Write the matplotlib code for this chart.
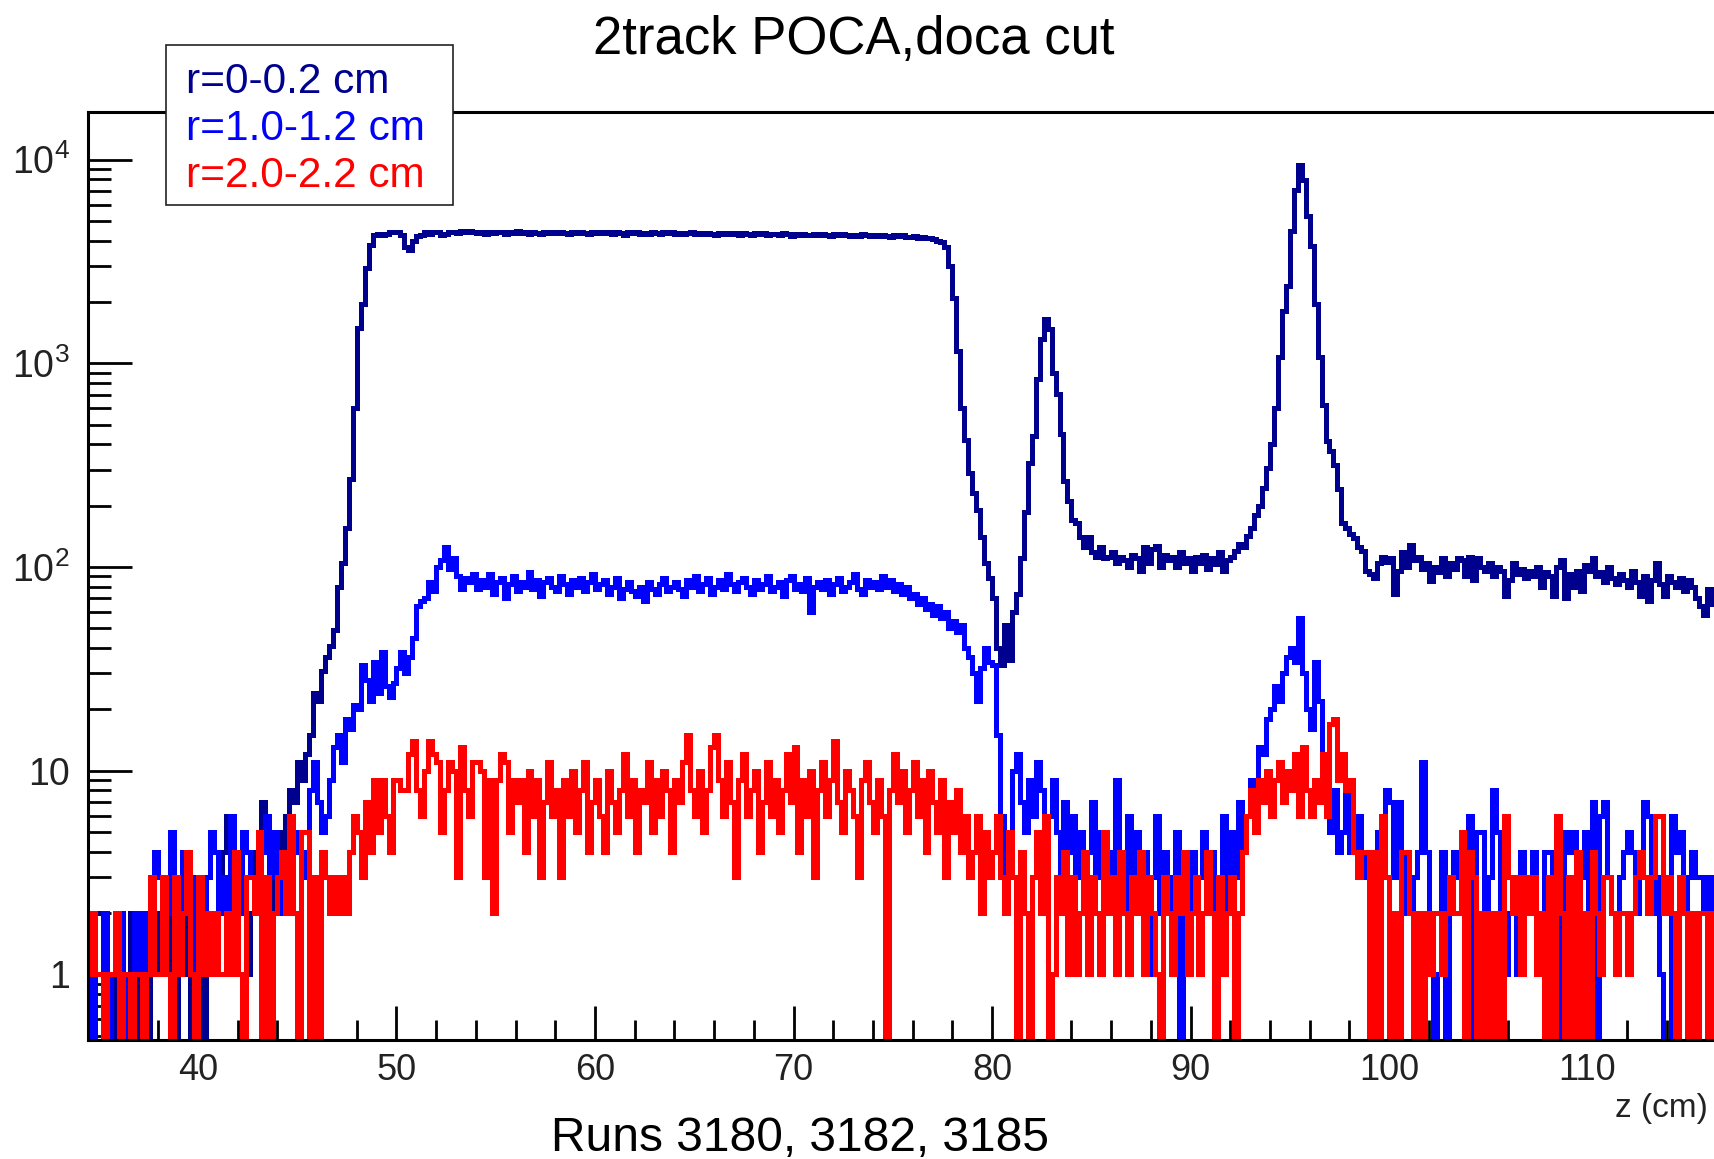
import numpy as np
import matplotlib
matplotlib.use('Agg')
import matplotlib.pyplot as plt
from matplotlib.patches import Rectangle
from matplotlib.ticker import LogLocator, MultipleLocator, NullFormatter

# histogram binning (cm)
z_start = 34.0
bin_width = 0.2

# r = 0-0.2 cm, one row = 5 cm (25 bins), rows start at 34, 39, 44 ...
counts_r0 = [
    0, 0, 1, 1, 2, 2, 0, 1, 1, 0, 1, 0, 1, 2, 1, 0, 1, 0, 2, 2, 1, 3, 3, 1, 0,
    1, 2, 1, 0, 1, 1, 0, 2, 1, 1, 2, 4, 6, 2, 1, 3, 2, 1, 2, 4, 3, 7, 5, 2, 4,
    5, 3, 6, 8, 7, 11, 9, 12, 15, 24, 22, 31, 36, 41, 49, 80, 105, 155, 270, 600, 1490, 1960, 2940, 3790, 4270,
    4300, 4280, 4300, 4420, 4400, 4410, 4280, 3700, 3580, 3980, 4200, 4270, 4410, 4300, 4420, 4400, 4270, 4300, 4420, 4430, 4380, 4440, 4400, 4450, 4420,
    4380, 4420, 4300, 4410, 4350, 4420, 4390, 4300, 4410, 4380, 4440, 4350, 4400, 4320, 4410, 4380, 4300, 4420, 4370, 4400, 4350, 4430, 4380, 4300, 4400,
    4350, 4420, 4380, 4310, 4400, 4360, 4430, 4340, 4390, 4300, 4410, 4370, 4280, 4400, 4350, 4420, 4330, 4380, 4310, 4400, 4360, 4290, 4390, 4350, 4400,
    4320, 4380, 4300, 4360, 4410, 4290, 4350, 4300, 4380, 4330, 4270, 4360, 4310, 4380, 4300, 4340, 4280, 4360, 4320, 4250, 4340, 4300, 4360, 4280, 4330,
    4300, 4260, 4340, 4290, 4220, 4310, 4260, 4330, 4280, 4240, 4300, 4250, 4320, 4270, 4220, 4290, 4250, 4310, 4240, 4200, 4280, 4230, 4290, 4250, 4210,
    4260, 4200, 4270, 4220, 4180, 4240, 4190, 4250, 4180, 4150, 4200, 4130, 4180, 4100, 4140, 4080, 4000, 3950, 3700, 3000, 2100, 1150, 600, 420, 290,
    230, 190, 140, 105, 88, 70, 40, 33, 52, 35, 60, 74, 110, 185, 325, 440, 840, 1320, 1650, 1480, 900, 710, 450, 265, 210,
    170, 165, 140, 125, 140, 118, 112, 125, 110, 112, 118, 105, 112, 108, 100, 115, 110, 95, 125, 105, 122, 126, 100, 115, 108,
    112, 100, 118, 105, 110, 96, 112, 104, 115, 98, 110, 103, 118, 95, 108, 112, 120, 130, 125, 142, 155, 180, 200, 245, 305,
    400, 600, 1070, 1800, 2400, 4460, 7100, 9400, 7900, 5300, 3780, 1960, 1070, 620, 415, 370, 315, 240, 165, 155, 145, 138, 125, 120, 95,
    92, 88, 105, 112, 106, 110, 74, 95, 118, 100, 128, 108, 112, 98, 104, 85, 100, 94, 110, 90, 104, 98, 110, 108, 90,
    112, 86, 110, 100, 96, 104, 90, 100, 95, 72, 86, 105, 92, 98, 88, 96, 90, 100, 80, 94, 90, 72, 100, 108, 70,
    92, 80, 96, 76, 102, 95, 110, 90, 94, 84, 100, 88, 82, 92, 86, 80, 96, 84, 72, 90, 68, 86, 104, 82, 72,
    90, 84, 80, 88, 76, 86, 80, 70, 64, 58, 78, 66, 72, 70, 75, 68, 74, 66, 70, 72, 65, 70, 68, 72, 66,
]

# r = 1.0-1.2 cm
counts_r1 = [
    0, 1, 1, 0, 1, 1, 2, 0, 1, 1, 2, 1, 0, 1, 2, 1, 2, 1, 2, 4, 3, 1, 2, 5, 1,
    2, 4, 2, 1, 3, 2, 1, 3, 5, 4, 2, 3, 1, 6, 3, 2, 5, 4, 3, 2, 3, 4, 6, 3, 5,
    2, 4, 3, 3, 5, 4, 3, 4, 8, 11, 7, 5, 6, 9, 13, 15, 11, 18, 16, 21, 20, 33, 28, 22, 34,
    24, 38, 26, 23, 27, 32, 38, 30, 36, 45, 64, 68, 70, 84, 76, 100, 108, 125, 98, 110, 90, 78, 88, 84, 92,
    78, 86, 80, 92, 74, 84, 88, 70, 82, 90, 76, 84, 80, 94, 78, 86, 72, 84, 88, 80, 76, 90, 82, 74, 86,
    80, 88, 76, 84, 92, 78, 82, 86, 74, 80, 88, 70, 78, 84, 76, 72, 80, 68, 84, 78, 74, 82, 88, 76, 80,
    84, 78, 72, 86, 80, 90, 76, 82, 88, 74, 80, 86, 78, 92, 82, 76, 84, 88, 80, 74, 86, 78, 82, 90, 76,
    80, 84, 72, 86, 90, 78, 82, 76, 88, 60, 80, 84, 78, 86, 74, 82, 88, 76, 80, 84, 92, 78, 74, 86, 80,
    84, 78, 90, 80, 86, 76, 82, 74, 80, 70, 74, 66, 70, 62, 66, 58, 64, 56, 60, 50, 54, 48, 52, 40, 36,
    30, 22, 32, 40, 34, 33, 15, 6, 3, 4, 10, 12, 7, 5, 9, 6, 11, 8, 4, 6, 9, 5, 3, 7, 4,
    6, 3, 5, 2, 4, 7, 3, 5, 2, 4, 3, 9, 4, 2, 6, 3, 5, 2, 4, 1, 3, 6, 2, 4, 3,
    2, 5, 0, 3, 1, 4, 2, 3, 5, 2, 4, 1, 3, 6, 2, 5, 3, 7, 4, 6, 9, 8, 13, 12, 18,
    20, 26, 22, 30, 36, 40, 34, 56, 30, 20, 16, 34, 22, 10, 9, 5, 8, 4, 5, 9, 4, 4, 6, 4, 3,
    3, 2, 5, 3, 8, 7, 3, 7, 2, 4, 2, 3, 4, 11, 4, 2, 0, 1, 4, 0, 3, 4, 3, 4, 2,
    6, 0, 5, 5, 2, 3, 8, 5, 2, 1, 2, 3, 1, 4, 2, 3, 4, 2, 1, 4, 4, 3, 0, 2, 5,
    4, 5, 4, 3, 5, 0, 7, 0, 6, 7, 3, 2, 1, 3, 4, 5, 4, 2, 3, 7, 6, 2, 3, 1, 0,
    0, 6, 4, 5, 2, 3, 4, 3, 3, 2, 3, 1, 3, 2, 3, 1, 2, 4, 2, 3, 1, 2, 3, 2, 3,
]

# r = 2.0-2.2 cm
counts_r2 = [
    1, 0, 1, 2, 1, 1, 0, 1, 1, 2, 0, 1, 1, 0, 1, 1, 0, 1, 3, 1, 1, 3, 1, 0, 3,
    1, 2, 4, 1, 0, 3, 1, 2, 1, 2, 1, 1, 2, 1, 4, 1, 0, 3, 3, 2, 5, 0, 3, 0, 2,
    3, 4, 2, 6, 2, 0, 5, 5, 0, 3, 0, 4, 3, 2, 3, 2, 3, 2, 4, 6, 5, 3, 7, 4, 9,
    5, 9, 6, 4, 9, 9, 8, 8, 12, 14, 8, 6, 10, 14, 12, 11, 5, 8, 11, 10, 3, 13, 8, 6, 11,
    11, 10, 3, 9, 2, 9, 12, 11, 5, 9, 7, 9, 4, 10, 6, 9, 3, 7, 11, 6, 8, 3, 9, 6, 10,
    5, 8, 11, 4, 7, 9, 6, 4, 10, 7, 5, 8, 12, 6, 9, 4, 8, 7, 11, 5, 9, 6, 10, 8, 4,
    9, 7, 11, 15, 8, 6, 10, 5, 8, 13, 15, 9, 6, 11, 7, 3, 9, 12, 6, 8, 10, 4, 7, 11, 6,
    9, 5, 8, 12, 7, 13, 4, 9, 6, 10, 3, 8, 11, 6, 9, 14, 7, 5, 10, 8, 6, 3, 9, 11, 7,
    5, 9, 6, 0, 8, 12, 7, 10, 5, 8, 11, 6, 9, 4, 10, 7, 5, 9, 3, 7, 5, 8, 4, 6, 3,
    4, 6, 2, 5, 3, 4, 6, 3, 2, 5, 3, 0, 4, 2, 0, 3, 5, 2, 6, 0, 1, 3, 2, 4, 1,
    3, 1, 2, 4, 1, 3, 2, 1, 5, 2, 3, 1, 4, 2, 1, 3, 2, 4, 1, 3, 2, 1, 0, 3, 2,
    1, 3, 2, 4, 1, 2, 3, 1, 2, 4, 2, 0, 3, 1, 2, 3, 0, 2, 4, 6, 8, 5, 9, 7, 10,
    6, 9, 11, 7, 10, 8, 12, 6, 13, 8, 6, 9, 7, 12, 6, 17, 18, 9, 12, 8, 9, 4, 3, 4, 4,
    0, 4, 0, 6, 3, 0, 2, 0, 4, 4, 2, 0, 2, 0, 2, 1, 2, 2, 1, 2, 3, 2, 2, 5, 0,
    4, 3, 0, 2, 0, 2, 0, 2, 0, 6, 3, 2, 3, 1, 3, 2, 3, 1, 2, 0, 3, 0, 6, 2, 0,
    3, 0, 4, 0, 2, 0, 4, 2, 1, 3, 3, 2, 1, 2, 2, 1, 2, 3, 4, 3, 2, 3, 6, 6, 2,
    3, 2, 0, 3, 2, 0, 2, 0, 2, 2, 0, 2, 0, 2, 1, 3, 2, 1, 2, 3, 2, 1, 2, 2, 1,
]

labels = ['r=0-0.2 cm', 'r=1.0-1.2 cm', 'r=2.0-2.2 cm']
colors = ['#00008f', '#0000ff', '#ff0000']
y_ticks = [1, 10, 100, 1000, 10000]
y_ticklabels = ['1', '10', r'$\mathregular{10^{2}}$', r'$\mathregular{10^{3}}$', r'$\mathregular{10^{4}}$']

plt.rcParams['font.family'] = ['Liberation Sans', 'DejaVu Sans']

W, H = 1715, 1159
fig = plt.figure(figsize=(W / 100, H / 100), dpi=100)
ax = fig.add_axes([88 / W, 1 - 1040 / H, 1 - 88 / W, (1040 - 111.6) / H])

for counts, color in zip([counts_r0, counts_r1, counts_r2], colors):
    c = np.array(counts, dtype=float)
    c[c <= 0] = 1e-3  # empty bins drop below the frame like in ROOT
    edges = z_start + bin_width * np.arange(len(c) + 1)
    ax.stairs(c, edges, baseline=None, color=color, lw=2.5, antialiased=False)

ax.set_yscale('log')
ax.set_xlim(34.46, 116.42)
ax.set_ylim(0.4757, 17190)
ax.set_axisbelow(True)

ax.set_yticks(y_ticks)
ax.set_yticklabels(y_ticklabels)
ax.yaxis.set_minor_locator(LogLocator(base=10, subs=np.arange(2, 10)))
ax.yaxis.set_minor_formatter(NullFormatter())
ax.xaxis.set_major_locator(MultipleLocator(10))
ax.xaxis.set_minor_locator(MultipleLocator(2))

ax.tick_params(axis='y', which='major', direction='in', length=31.7, width=2,
               labelsize=27, pad=13, labelcolor='#222222')
ax.tick_params(axis='y', which='minor', direction='in', length=16.6, width=2)
ax.tick_params(axis='x', which='major', direction='in', length=24.5, width=2,
               labelsize=26, pad=9, labelcolor='#222222')
ax.tick_params(axis='x', which='minor', direction='in', length=14.4, width=2)

for side in ['left', 'bottom', 'top']:
    ax.spines[side].set_linewidth(2.2)
ax.spines['right'].set_visible(False)

# legend box drawn over the frame
fig.patches.append(Rectangle((166 / W, 1 - 205 / H), (453 - 166) / W, (205 - 45) / H,
                             transform=fig.transFigure, facecolor='white',
                             edgecolor='#222222', lw=1.2, zorder=5))
for i, (lab, color) in enumerate(zip(labels, colors)):
    fig.text(186 / W, 1 - (93 + 47 * i) / H, lab, color=color, fontsize=30.5,
             ha='left', va='baseline', zorder=6)

fig.text(853.7 / W, 1 - 54 / H, '2track POCA,doca cut', ha='center', va='baseline', fontsize=38)
fig.text(800 / W, 1 - 1151 / H, 'Runs 3180, 3182, 3185', ha='center', va='baseline', fontsize=34.5)
fig.text(1708 / W, 1 - 1108 / H, 'z (cm)', ha='right', va='center', fontsize=24, color='#222222')

fig.savefig('out.png', dpi=100)
